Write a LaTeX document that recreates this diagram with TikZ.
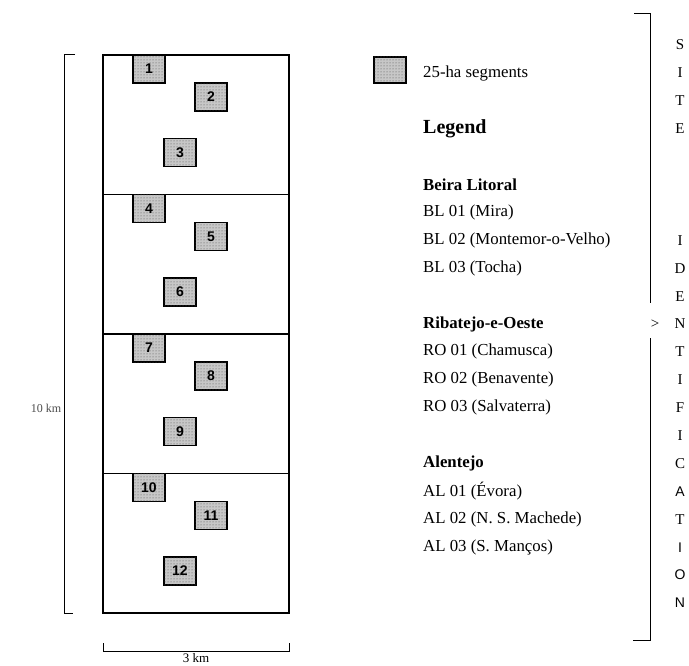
\documentclass[tikz,border=0pt]{standalone}
\usepackage{fontspec}
\setmainfont{Liberation Serif}
\setsansfont{Liberation Sans}
\usetikzlibrary{patterns}

\begin{document}
\begin{tikzpicture}[
  x=1pt,y=-1pt,
  frame/.style={line width=1.4pt},
  bracket/.style={line width=1pt},
  seg/.style={draw,line width=1.3pt,fill=black!22,
    postaction={pattern=dots,pattern color=black!70},
    minimum width=32pt,minimum height=28pt,inner sep=0pt,
    font=\sffamily\bfseries\fontsize{14}{14}\selectfont},
  entry/.style={anchor=west,inner sep=0pt,font=\fontsize{16.8}{16.8}\selectfont},
  region/.style={entry,font=\bfseries\fontsize{16.8}{16.8}\selectfont},
  letter/.style={inner sep=0pt,font=\fontsize{15}{15}\selectfont},
  scalelbl/.style={inner sep=0pt,text=black!70,font=\fontsize{12}{12}\selectfont}
]
\useasboundingbox (0,0) rectangle (689,666);

% Study area: 10 km x 3 km, four bands, three segments each.
\draw[frame] (103,55) rectangle (289,613);
\foreach \b in {1,2,3}
  \draw[frame] (103,55+139.5*\b) -- (289,55+139.5*\b);
\foreach \b in {0,1,2,3} {
  \pgfmathtruncatemacro{\na}{3*\b+1}
  \pgfmathtruncatemacro{\nb}{3*\b+2}
  \pgfmathtruncatemacro{\nc}{3*\b+3}
  \node[seg] (s\na) at (149,55+139.5*\b+14) {\na};
  \node[seg] (s\nb) at (211,55+139.5*\b+42) {\nb};
  \node[seg] (s\nc) at (180,55+139.5*\b+97.5) {\nc};
}

% Scale bars.
\draw[bracket] (75,55) -- (64,55) -- (64,613) -- (73,613);
\node[scalelbl] (tenkm) at (46,408) {10 km};
\draw[bracket] (103,643) -- (103,651) -- (289,651) -- (289,643);
\node[scalelbl,text=black,font=\fontsize{13}{13}\selectfont] (threekm) at (196,658) {3 km};

% Legend.
\node[seg,minimum height=26pt] (key) at (390,70) {};
\node[entry] (keytxt) at (423,73) {25-ha segments};
\node[entry,font=\bfseries\fontsize{20}{20}\selectfont] (legend) at (423,129) {Legend};
\foreach \k/\t in {5/Beira Litoral,10/Ribatejo-e-Oeste,15/Alentejo}
  \node[region] (r\k) at (423,45+27.9*\k) {\t};
\foreach \k/\t in {6/BL 01 (Mira),7/BL 02 (Montemor-o-Velho),8/BL 03 (Tocha),
    11/RO 01 (Chamusca),12/RO 02 (Benavente),13/RO 03 (Salvaterra),
    16/AL 01 (Évora),17/AL 02 (N. S. Machede),18/AL 03 (S. Manços)}
  \node[entry] (e\k) at (423,45+27.9*\k) {\t};

% Site identification column.
\draw[bracket] (634,14) -- (650,14) -- (650,303);
\draw[bracket] (650,338) -- (650,640) -- (633,640);
\node[letter] (arrow) at (655,324) {>};
\foreach \k/\c in {0/S,1/I,2/T,3/E,7/I,8/D,9/E,10/N,11/T,12/I,13/F,14/I,15/C,17/T}
  \node[letter] (l\k) at (680,45+27.9*\k) {\c};
\foreach \k/\c in {16/A,18/I,19/O,20/N}
  \node[letter,font=\sffamily\fontsize{14}{14}\selectfont] (l\k) at (680,45+27.9*\k) {\c};

\end{tikzpicture}
\end{document}
